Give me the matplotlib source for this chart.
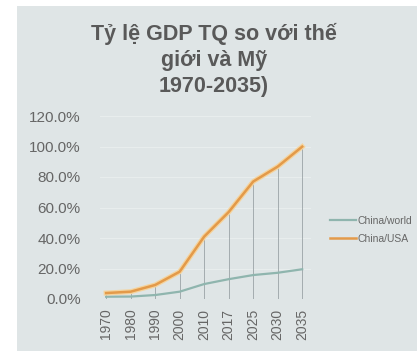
import matplotlib.pyplot as plt
from matplotlib.patches import Rectangle

plt.rcParams['font.family'] = ['Liberation Sans', 'DejaVu Sans']

years = ['1970', '1980', '1990', '2000', '2010', '2017', '2025', '2030', '2035']
china_world = [1.5, 1.6, 2.6, 4.8, 9.8, 13.0, 15.7, 17.2, 19.5]
china_usa = [3.9, 4.8, 9.2, 17.9, 40.9, 57.0, 77.0, 86.8, 99.9]
y_ticks = [0, 20, 40, 60, 80, 100, 120]

text_color = '#666666'
title_color = '#595959'
panel_color = '#dfe5e6'

fig = plt.figure(figsize=(4.17, 3.51), dpi=100)
fig.patch.set_facecolor('white')
fig.patches.append(Rectangle((17 / 417, 0), 1 - 17 / 417, 1 - 6 / 351,
                             transform=fig.transFigure, facecolor=panel_color,
                             edgecolor='none', zorder=-5))

ax = fig.add_axes([100 / 417, 1 - 299 / 351, 211 / 417, 183 / 351])
ax.set_zorder(2)
ax.set_facecolor('none')
x = list(range(len(years)))

for y in y_ticks:
    ax.axhline(y, color='#e8eded', lw=0.8, zorder=1)
ax.vlines(x, 0, china_usa, color='#9aa3a6', lw=0.6, zorder=2)

ax.plot(x, china_world, color='#8fb5ae', lw=1.6, zorder=3, label='China/world')
ax.plot(x, china_usa, color='#f5d39c', lw=3.6, zorder=3)
ax.plot(x, china_usa, color='#e39a4a', lw=1.8, zorder=4, label='China/USA')

ax.set_xlim(-0.25, len(years) - 1 + 0.36)
ax.set_ylim(0, 120)
ax.set_yticks(y_ticks)
ax.set_yticklabels([f'{v:.1f}%' for v in y_ticks], color=text_color, fontsize=11)
ax.set_xticks(x)
ax.set_xticklabels(years, rotation=90, color=text_color, fontsize=10)
ax.tick_params(axis='y', length=0, pad=14)
ax.tick_params(axis='x', length=0, pad=7)
for s in ax.spines.values():
    s.set_visible(False)

fig.text(214 / 417, 1 - 60 / 351, 'Tỷ lệ GDP TQ so với thế\ngiới và Mỹ\n1970-2035)',
         ha='center', va='center', fontsize=15.5, fontweight='bold',
         color=title_color, linespacing=1.3, zorder=5)

leg = fig.legend(loc='center left', bbox_to_anchor=(330 / 417, 1 - 230 / 351),
                 frameon=False, fontsize=7.5, handlelength=2.5, handletextpad=0.1,
                 borderpad=0, borderaxespad=0, labelspacing=0.75,
                 labelcolor=text_color)

fig.savefig('out.png', dpi=100, facecolor=fig.get_facecolor())
